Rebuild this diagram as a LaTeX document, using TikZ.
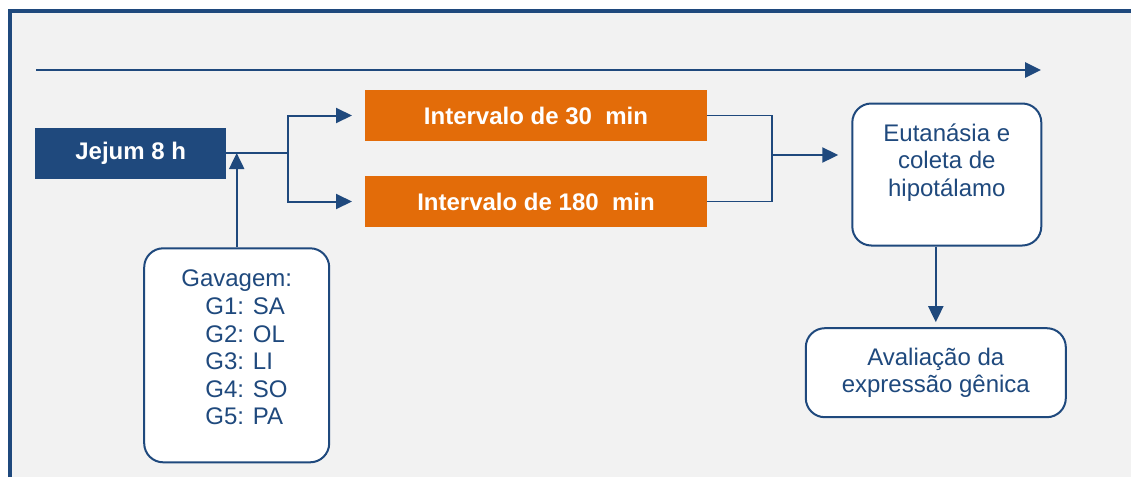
\documentclass[tikz,border=0pt]{standalone}
\usepackage{fontspec}
\setmainfont{Liberation Sans}
\usepackage{xcolor}
\usepackage{tikz}
\usetikzlibrary{arrows.meta, positioning}

\definecolor{navy}{HTML}{1F497D}
\definecolor{rust}{HTML}{E36C09}
\definecolor{paper}{HTML}{F2F2F2}

\begin{document}
\begin{tikzpicture}[
  x=1pt,
  y=-1pt,
  font=\fontsize{24}{27.6}\selectfont,
  fillbox/.style={
    fill=#1,
    text=white,
    font=\fontsize{24}{27.6}\selectfont\bfseries,
    minimum height=51pt,
    inner sep=0pt,
    outer sep=0pt,
    text centered
  },
  roundbox/.style={
    draw=navy,
    line width=2pt,
    fill=white,
    rounded corners=19pt,
    text=navy,
    align=center,
    inner sep=0pt
  },
  arr/.style={
    -{Triangle[length=16pt, width=15pt]},
    line width=2pt,
    navy
  },
  link/.style={
    line width=1.6pt,
    navy
  }
]

% frame
\useasboundingbox (0,0) rectangle (1131,477);
\fill [paper] (9.7,11.3) rectangle (1131,477);
\draw [navy, line width=4pt] (9.7,477) -- (9.7,11.3) -- (1131,11.3);

% time line
\coordinate (t0) at (36,70);
\coordinate (t1) at (1041,70);
\draw [arr, line width=2.6pt] (t0) -- (t1);

\node [fillbox=navy, minimum width=191pt] (jejum) at (130.7,153) {Jejum 8 h};
\node [fillbox=rust, minimum width=342pt] (i30) at (536,115.5) {Intervalo de 30~~min};
\node [fillbox=rust, minimum width=342pt, below=35pt of i30] (i180) {Intervalo de 180~~min};

% text depth pulls the lines up to the top of the box
\node [roundbox, align=left, minimum width=185pt, minimum height=214pt, text depth=15.5pt] (gav) at (236.7,355.3)
  {Gavagem:\\\hspace*{24pt}G1: SA\\\hspace*{24pt}G2: OL\\\hspace*{24pt}G3: LI\\\hspace*{24pt}G4: SO\\\hspace*{24pt}G5: PA};

\node [roundbox, minimum width=189pt, minimum height=142pt, text depth=29pt] (eut) at (946.8,174.5)
  {Eutanásia e\\coleta de\\hipotálamo};
\node [roundbox, minimum width=260pt, minimum height=89pt] (aval) at (935.8,372.7)
  {Avaliação da\\expressão gênica};

\coordinate (split) at (288,153);
\coordinate (merge) at (772,155);

\draw [arr, -] (jejum.east) -- (split);
\draw [arr, shorten >=13pt] (split) |- (i30.west);
\draw [arr, shorten >=13pt] (split) |- (i180.west);

\draw [arr] (gav.north) -- (gav.north |- jejum.east);

\draw [link] (i30.east) -| (merge) |- (i180.east);
\draw [arr, shorten >=13pt] (merge) -- (merge -| eut.west);

\draw [arr, shorten >=5pt] (aval.north |- eut.south) -- (aval.north);

\end{tikzpicture}
\end{document}
